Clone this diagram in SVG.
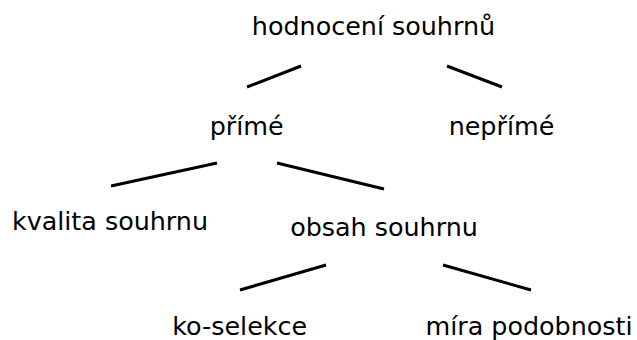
<svg xmlns="http://www.w3.org/2000/svg" width="637" height="340" viewBox="0 0 637 340">
<style>
text{font-family:"DejaVu Sans",sans-serif;font-size:25.4px;fill:#000;text-anchor:middle}
.e{stroke:#000;stroke-width:3;fill:none;stroke-linecap:butt}
</style>
<rect width="637" height="340" fill="#fff"/>
<g id="connectors">
<line class="e" x1="301" y1="66" x2="247" y2="87"/>
<line class="e" x1="447" y1="66" x2="502" y2="87"/>
<line class="e" x1="217" y1="163" x2="111" y2="186"/>
<line class="e" x1="277" y1="163" x2="384" y2="189"/>
<line class="e" x1="326" y1="265" x2="240" y2="290"/>
<line class="e" x1="443" y1="265" x2="531" y2="290"/>
</g>
<g id="n-root"><text x="373.5" y="35">hodnocení souhrnů</text></g>
<g id="n-prime"><text x="246.7" y="135">přímé</text></g>
<g id="n-neprime"><text x="501.5" y="135">nepřímé</text></g>
<g id="n-kvalita"><text x="110" y="230">kvalita souhrnu</text></g>
<g id="n-obsah"><text x="384" y="236">obsah souhrnu</text></g>
<g id="n-ko"><text x="239.7" y="335">ko-selekce</text></g>
<g id="n-mira"><text x="529" y="335">míra podobnosti</text></g>
</svg>
